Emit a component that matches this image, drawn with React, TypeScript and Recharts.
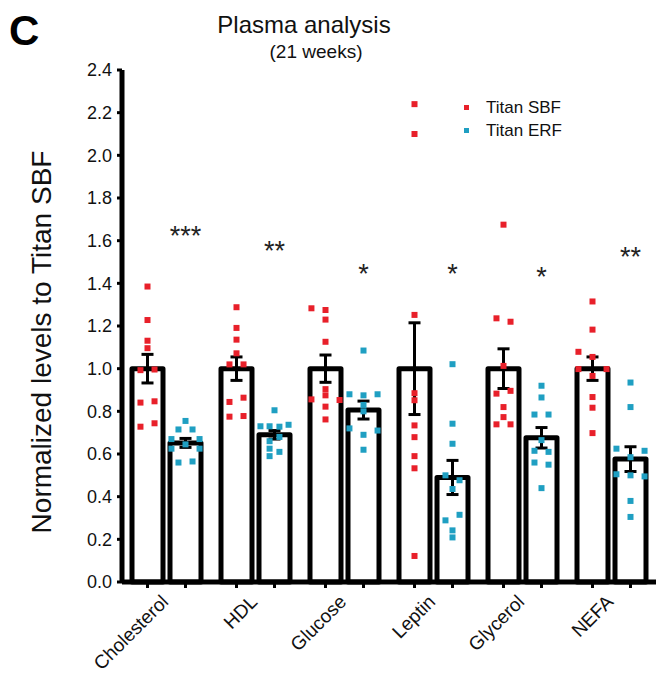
import React from 'react';
import { ComposedChart, Bar, Scatter, XAxis, YAxis, ErrorBar, Legend } from 'recharts';

const analytes = ['Cholesterol', 'HDL', 'Glucose', 'Leptin', 'Glycerol', 'NEFA'];
const sbfMean = [1.0, 1.0, 1.0, 1.0, 1.0, 1.0];
const sbfSem = [0.067, 0.055, 0.064, 0.215, 0.093, 0.055];
const erfMean = [0.652, 0.69, 0.806, 0.49, 0.676, 0.576];
const erfSem = [0.021, 0.02, 0.042, 0.08, 0.048, 0.058];
const stars = ['***', '**', '*', '*', '*', '**'];
const starLevel = [1.65, 1.58, 1.47, 1.47, 1.46, 1.55];
const yTicks = [0, 0.2, 0.4, 0.6, 0.8, 1.0, 1.2, 1.4, 1.6, 1.8, 2.0, 2.2, 2.4];
const seriesNames = ['Titan SBF', 'Titan ERF'];

// individual animals per analyte: [value, dot column in the swarm]
const sbfPoints: [number, number][][] = [
  [[1.385, 0], [1.228, 0], [1.131, 0], [1.096, 0], [0.993, -1], [0.996, 1], [0.841, -1], [0.847, 1], [0.728, -1], [0.744, 1]],
  [[1.288, 0], [1.191, 0], [1.136, 0], [1.072, 0], [1.02, -1], [1.02, 1], [0.844, -1], [0.864, 1], [0.775, -1], [0.778, 1]],
  [[1.283, -2], [1.275, 0], [1.23, 0], [1.126, 0], [0.904, 0], [0.875, 0], [0.856, -2], [0.853, 2], [0.822, 0], [0.762, 0]],
  [[2.24, 0], [2.1, 0], [1.252, 0], [0.885, 0], [0.852, 0], [0.734, 0], [0.679, 0], [0.59, 0], [0.533, 0], [0.122, 0]],
  [[1.675, 0], [1.236, -1], [1.22, 1], [1.013, 0], [0.883, -1], [0.896, 1], [0.82, 0], [0.773, 0], [0.739, -1], [0.739, 1]],
  [[1.315, 0], [1.183, 0], [1.079, -2], [1.055, 0], [0.998, -2], [0.998, 2], [0.966, 0], [0.867, 0], [0.817, 0], [0.698, 0]],
];
const erfPoints: [number, number][][] = [
  [[0.755, 0], [0.715, -1], [0.715, 1], [0.67, -2], [0.67, 2], [0.645, 0], [0.625, -2], [0.625, 2], [0.56, -1], [0.565, 1]],
  [[0.805, 0], [0.73, -2], [0.73, -0.7], [0.728, 0.7], [0.737, 2], [0.68, 0.7], [0.66, -0.7], [0.625, -0.7], [0.61, 0.7], [0.59, -0.7]],
  [[1.085, 0], [0.88, -2], [0.875, 0], [0.88, 2], [0.83, 0], [0.8, 0], [0.72, -2], [0.71, 2], [0.69, 0], [0.62, 0]],
  [[1.021, 0], [0.742, 0], [0.648, 0], [0.5, -1], [0.477, 1], [0.436, 0], [0.315, 1], [0.289, -1], [0.242, 0], [0.209, 0]],
  [[0.92, 0], [0.865, 0], [0.785, -1], [0.785, 1], [0.665, 0], [0.615, -1], [0.61, 1], [0.56, -1], [0.55, 1], [0.44, 0]],
  [[0.935, 0], [0.82, 0], [0.625, -2], [0.615, 2], [0.585, 0], [0.505, -2], [0.5, 0], [0.495, 2], [0.38, 0], [0.305, 0]],
];

const RED = '#e8202a';
const TEAL = '#1f9fc2';
const FONT = 'Arial, "Liberation Sans", Helvetica, sans-serif';

// bar centres sit this far from the group centre (category units); dot columns step by COL
const SIDE = 0.2135;
const COL = 0.079;

const barData = analytes.map((name, i) => ({
  name,
  sbf: sbfMean[i],
  sbfErr: sbfSem[i],
  erf: erfMean[i],
  erfErr: erfSem[i],
}));

const toDots = (groups: [number, number][][], side: number) =>
  groups.flatMap((pts, i) => pts.map(([v, col]) => ({ x: i + 0.5 + side * SIDE + col * COL, y: v })));

const sbfDots = toDots(sbfPoints, -1);
const erfDots = toDots(erfPoints, 1);
const starDots = stars.map((s, i) => ({ x: i + 0.5 + SIDE, y: starLevel[i], label: s }));

const square = (color: string) => (props: any) => (
  <rect x={props.cx - 3} y={props.cy - 3} width={6} height={6} fill={color} />
);

const StarMark = (props: any) => (
  <text x={props.cx} y={props.cy + 15} textAnchor="middle" fontSize={27} fontFamily={FONT} fill="#222">
    {props.payload.label}
  </text>
);

const CategoryTick = ({ x, y, payload }: any) => (
  <g>
    <line x1={x - 19} x2={x - 19} y1={y} y2={y + 6} stroke="#000" strokeWidth={3} />
    <line x1={x + 19} x2={x + 19} y1={y} y2={y + 6} stroke="#000" strokeWidth={3} />
    <text
      x={x + 3}
      y={y + 21}
      transform={`rotate(-45 ${x + 3} ${y + 21})`}
      textAnchor="end"
      fontSize={19}
      fontFamily={FONT}
      fill="#111"
    >
      {payload.value}
    </text>
  </g>
);

const renderLegend = (props: any) => {
  const items = (props.payload || []).filter((p: any) => seriesNames.includes(p.value));
  items.sort((a: any, b: any) => seriesNames.indexOf(a.value) - seriesNames.indexOf(b.value));
  return (
    <div style={{ fontFamily: FONT }}>
      {items.map((p: any) => (
        <div key={p.value} style={{ display: 'flex', alignItems: 'center', height: 23 }}>
          <span style={{ width: 5, height: 5, background: p.color, marginRight: 17 }} />
          <span style={{ fontSize: 17, color: '#111' }}>{p.value}</span>
        </div>
      ))}
    </div>
  );
};

export default function App() {
  return (
    <div style={{ position: 'absolute', left: 0, top: 0, width: 656, height: 692, background: '#fff' }}>
      <ComposedChart width={656} height={692} data={barData} margin={{ top: 70, right: 0, left: 62, bottom: 10 }} barSize={31} barGap={7}>
        <XAxis
          xAxisId="cat"
          dataKey="name"
          height={100}
          axisLine={{ stroke: '#000', strokeWidth: 5 }}
          tickLine={false}
          tickSize={0}
          tickMargin={0}
          interval={0}
          tick={<CategoryTick />}
        />
        <XAxis xAxisId="dots" dataKey="x" type="number" domain={[0, 6]} hide allowDataOverflow />
        <YAxis
          domain={[0, 2.4]}
          ticks={yTicks}
          width={60}
          interval={0}
          tickFormatter={(v: number) => v.toFixed(1)}
          axisLine={{ stroke: '#000', strokeWidth: 5 }}
          tickLine={{ stroke: '#000', strokeWidth: 3 }}
          tickSize={5}
          tickMargin={5}
          tick={{ fill: '#111', fontSize: 18, fontFamily: FONT }}
        />
        <Bar xAxisId="cat" dataKey="sbf" name="SBF mean" fill="#fff" stroke="#000" strokeWidth={5} strokeLinejoin="round" legendType="none" isAnimationActive={false}>
          <ErrorBar dataKey="sbfErr" width={6} stroke="#000" strokeWidth={3} direction="y" />
        </Bar>
        <Bar xAxisId="cat" dataKey="erf" name="ERF mean" fill="#fff" stroke="#000" strokeWidth={5} strokeLinejoin="round" legendType="none" isAnimationActive={false}>
          <ErrorBar dataKey="erfErr" width={6} stroke="#000" strokeWidth={3} direction="y" />
        </Bar>
        <Scatter xAxisId="dots" data={sbfDots} dataKey="y" name="Titan SBF" fill={RED} shape={square(RED)} isAnimationActive={false} />
        <Scatter xAxisId="dots" data={erfDots} dataKey="y" name="Titan ERF" fill={TEAL} shape={square(TEAL)} isAnimationActive={false} />
        <Scatter xAxisId="dots" data={starDots} dataKey="y" name="sig" legendType="none" shape={StarMark} isAnimationActive={false} />
        <Legend content={renderLegend} layout="vertical" align="center" verticalAlign="middle" wrapperStyle={{ top: 96, left: 464, width: 140 }} />
      </ComposedChart>
      <svg width={656} height={692} style={{ position: 'absolute', left: 0, top: 0, pointerEvents: 'none' }}>
        <text x={9} y={45} fontSize={42} fontWeight="bold" fontFamily={FONT} fill="#000">C</text>
        <text x={304} y={33} fontSize={24} textAnchor="middle" fontFamily={FONT} fill="#111">Plasma analysis</text>
        <text x={316} y={58} fontSize={19} textAnchor="middle" fontFamily={FONT} fill="#111">(21 weeks)</text>
        <text x={51} y={342} fontSize={28} textAnchor="middle" fontFamily={FONT} fill="#111" transform="rotate(-90 51 342)">
          Normalized levels to Titan SBF
        </text>
      </svg>
    </div>
  );
}
